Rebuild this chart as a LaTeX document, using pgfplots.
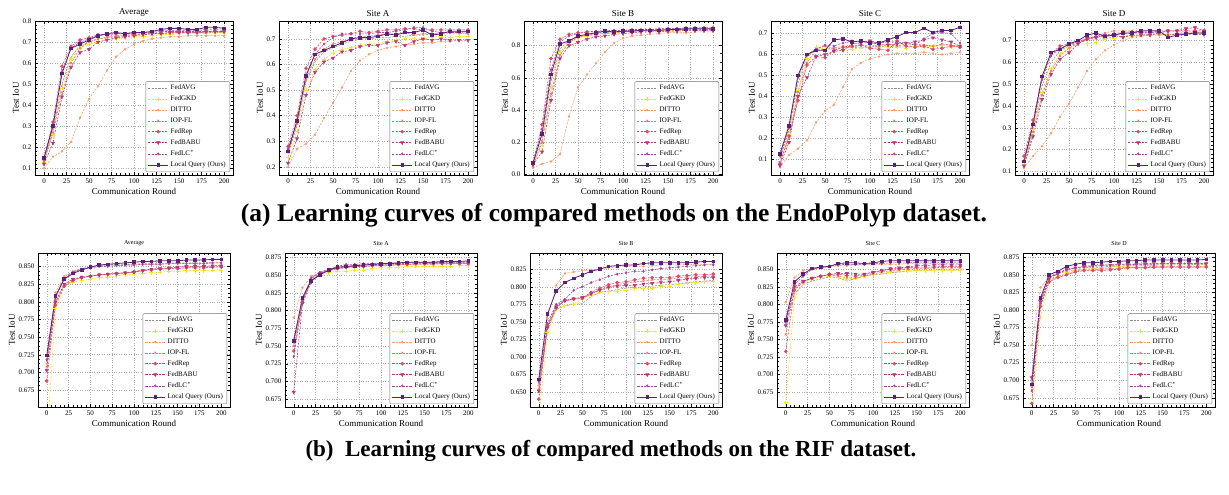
\documentclass[border=0pt]{standalone}
\usepackage{fontspec}
\setmainfont{Liberation Serif}
\usepackage{pgfplots}
\usepackage{pgfplotstable}
\pgfplotsset{compat=1.18}

\definecolor{cAVG}{HTML}{8C8C8C}
\definecolor{cGKD}{HTML}{F5E51B}
\definecolor{cDIT}{HTML}{FB9B6A}
\definecolor{cIOP}{HTML}{F2705E}
\definecolor{cREP}{HTML}{DD4968}
\definecolor{cBABU}{HTML}{B73779}
\definecolor{cLC}{HTML}{A0489A}
\definecolor{cOURS}{HTML}{5E1F78}

% columns: round, FedAVG, FedGKD, DITTO, IOP-FL, FedRep, FedBABU, FedLC*, Local Query
% ---------------- EndoPolyp ----------------
\pgfplotstableread{
x avg gkd dit iop rep babu lc ours
0 0.140 0.130 0.100 0.130 0.140 0.120 0.150 0.150
10 0.280 0.260 0.155 0.270 0.320 0.220 0.310 0.300
20 0.500 0.480 0.180 0.460 0.585 0.440 0.560 0.550
30 0.630 0.620 0.225 0.600 0.680 0.580 0.670 0.670
40 0.680 0.670 0.340 0.670 0.710 0.650 0.700 0.690
50 0.700 0.690 0.430 0.700 0.720 0.665 0.715 0.710
60 0.715 0.700 0.490 0.715 0.735 0.700 0.730 0.730
70 0.720 0.710 0.565 0.725 0.735 0.710 0.735 0.740
80 0.725 0.715 0.630 0.730 0.740 0.720 0.740 0.745
90 0.730 0.720 0.665 0.735 0.740 0.725 0.740 0.740
100 0.735 0.725 0.690 0.735 0.740 0.730 0.745 0.745
110 0.735 0.725 0.705 0.740 0.745 0.735 0.745 0.745
120 0.740 0.730 0.715 0.740 0.745 0.740 0.750 0.750
130 0.740 0.735 0.720 0.740 0.750 0.740 0.755 0.760
140 0.740 0.735 0.725 0.745 0.750 0.745 0.755 0.765
150 0.745 0.740 0.725 0.745 0.750 0.745 0.755 0.765
160 0.745 0.740 0.730 0.745 0.750 0.745 0.755 0.760
170 0.745 0.740 0.730 0.745 0.750 0.745 0.755 0.760
180 0.745 0.740 0.730 0.745 0.750 0.750 0.760 0.770
190 0.745 0.745 0.730 0.745 0.750 0.750 0.760 0.770
200 0.745 0.745 0.730 0.745 0.750 0.750 0.755 0.765
}\tEavg

\pgfplotstableread{
x avg gkd dit iop rep babu lc ours
0 0.250 0.235 0.200 0.270 0.280 0.215 0.270 0.260
10 0.360 0.340 0.270 0.370 0.400 0.310 0.380 0.380
20 0.530 0.500 0.290 0.540 0.585 0.480 0.560 0.555
30 0.610 0.580 0.325 0.620 0.660 0.570 0.640 0.640
40 0.650 0.620 0.390 0.660 0.700 0.610 0.680 0.655
50 0.665 0.645 0.450 0.680 0.710 0.625 0.705 0.670
60 0.680 0.660 0.510 0.690 0.715 0.650 0.720 0.685
70 0.690 0.665 0.575 0.700 0.720 0.655 0.720 0.700
80 0.700 0.675 0.615 0.710 0.730 0.670 0.720 0.705
90 0.700 0.680 0.640 0.710 0.725 0.675 0.720 0.705
100 0.705 0.680 0.655 0.715 0.730 0.675 0.725 0.710
110 0.705 0.690 0.665 0.720 0.735 0.685 0.725 0.720
120 0.710 0.695 0.670 0.720 0.735 0.690 0.730 0.715
130 0.710 0.700 0.675 0.725 0.740 0.675 0.735 0.725
140 0.715 0.700 0.680 0.715 0.740 0.690 0.745 0.725
150 0.715 0.700 0.685 0.720 0.735 0.700 0.745 0.735
160 0.720 0.705 0.685 0.720 0.735 0.695 0.730 0.715
170 0.720 0.710 0.690 0.725 0.735 0.700 0.725 0.720
180 0.720 0.705 0.690 0.725 0.735 0.695 0.725 0.730
190 0.720 0.710 0.695 0.725 0.735 0.695 0.725 0.730
200 0.725 0.710 0.695 0.720 0.735 0.695 0.730 0.730
}\tEa

\pgfplotstableread{
x avg gkd dit iop rep babu lc ours
0 0.065 0.060 0.040 0.050 0.070 0.060 0.075 0.070
10 0.220 0.180 0.065 0.200 0.310 0.140 0.280 0.250
20 0.580 0.540 0.080 0.500 0.720 0.460 0.650 0.620
30 0.780 0.760 0.125 0.740 0.840 0.720 0.820 0.810
40 0.830 0.820 0.360 0.820 0.870 0.800 0.860 0.830
50 0.855 0.850 0.540 0.850 0.880 0.820 0.875 0.860
60 0.865 0.860 0.620 0.865 0.885 0.840 0.885 0.870
70 0.875 0.870 0.690 0.870 0.885 0.855 0.890 0.880
80 0.880 0.875 0.760 0.875 0.890 0.860 0.890 0.890
90 0.885 0.880 0.815 0.880 0.890 0.870 0.895 0.885
100 0.890 0.885 0.845 0.885 0.895 0.875 0.895 0.890
110 0.890 0.885 0.860 0.890 0.895 0.880 0.900 0.890
120 0.890 0.890 0.865 0.890 0.895 0.885 0.900 0.895
130 0.895 0.890 0.870 0.890 0.900 0.885 0.900 0.895
140 0.895 0.890 0.875 0.895 0.900 0.885 0.905 0.895
150 0.895 0.895 0.880 0.895 0.905 0.890 0.905 0.900
160 0.900 0.895 0.880 0.895 0.905 0.890 0.905 0.900
170 0.900 0.895 0.880 0.900 0.910 0.895 0.910 0.905
180 0.900 0.895 0.885 0.900 0.910 0.895 0.910 0.905
190 0.900 0.900 0.885 0.900 0.910 0.895 0.910 0.905
200 0.900 0.900 0.885 0.900 0.910 0.895 0.910 0.905
}\tEb

\pgfplotstableread{
x avg gkd dit iop rep babu lc ours
0 0.100 0.090 0.060 0.085 0.080 0.070 0.115 0.125
10 0.240 0.220 0.120 0.200 0.210 0.180 0.250 0.260
20 0.460 0.430 0.150 0.420 0.380 0.400 0.490 0.500
30 0.590 0.580 0.190 0.560 0.550 0.490 0.600 0.600
40 0.620 0.635 0.275 0.625 0.590 0.590 0.625 0.620
50 0.625 0.625 0.330 0.640 0.585 0.600 0.645 0.620
60 0.630 0.625 0.360 0.630 0.620 0.615 0.640 0.670
70 0.630 0.620 0.445 0.640 0.635 0.620 0.655 0.675
80 0.635 0.625 0.530 0.635 0.640 0.650 0.665 0.660
90 0.630 0.635 0.560 0.645 0.645 0.655 0.660 0.665
100 0.635 0.630 0.580 0.640 0.630 0.665 0.665 0.655
110 0.640 0.635 0.590 0.645 0.625 0.645 0.655 0.655
120 0.635 0.640 0.600 0.650 0.620 0.645 0.660 0.670
130 0.640 0.635 0.605 0.640 0.665 0.650 0.660 0.685
140 0.640 0.630 0.605 0.650 0.640 0.655 0.655 0.705
150 0.640 0.640 0.605 0.650 0.635 0.660 0.645 0.705
160 0.645 0.635 0.610 0.645 0.640 0.670 0.675 0.725
170 0.640 0.640 0.605 0.640 0.625 0.680 0.700 0.705
180 0.645 0.635 0.600 0.650 0.630 0.670 0.705 0.715
190 0.645 0.635 0.605 0.645 0.640 0.660 0.700 0.715
200 0.640 0.645 0.610 0.635 0.635 0.640 0.655 0.730
}\tEc

\pgfplotstableread{
x avg gkd dit iop rep babu lc ours
0 0.140 0.130 0.115 0.125 0.170 0.125 0.150 0.145
10 0.300 0.290 0.170 0.280 0.335 0.260 0.320 0.315
20 0.490 0.460 0.215 0.450 0.530 0.430 0.520 0.535
30 0.600 0.570 0.275 0.560 0.640 0.545 0.630 0.645
40 0.655 0.640 0.350 0.630 0.675 0.615 0.665 0.660
50 0.675 0.665 0.410 0.665 0.685 0.645 0.680 0.685
60 0.690 0.685 0.485 0.690 0.700 0.685 0.695 0.700
70 0.700 0.685 0.560 0.705 0.705 0.710 0.710 0.725
80 0.705 0.690 0.615 0.720 0.715 0.715 0.720 0.735
90 0.710 0.705 0.655 0.735 0.720 0.725 0.725 0.720
100 0.715 0.710 0.680 0.745 0.730 0.725 0.730 0.725
110 0.720 0.715 0.700 0.745 0.740 0.715 0.730 0.735
120 0.725 0.720 0.715 0.745 0.740 0.725 0.735 0.735
130 0.725 0.725 0.720 0.740 0.735 0.725 0.735 0.745
140 0.730 0.725 0.725 0.745 0.735 0.725 0.740 0.745
150 0.730 0.725 0.725 0.740 0.745 0.735 0.735 0.745
160 0.730 0.730 0.730 0.740 0.745 0.745 0.725 0.715
170 0.730 0.730 0.730 0.740 0.745 0.745 0.730 0.725
180 0.735 0.735 0.730 0.740 0.745 0.755 0.730 0.730
190 0.735 0.735 0.735 0.740 0.745 0.760 0.730 0.735
200 0.735 0.735 0.735 0.740 0.745 0.745 0.725 0.735
}\tEd

% ---------------- RIF ----------------
\pgfplotstableread{
x avg gkd dit iop rep babu lc ours
0 0.715 0.600 0.712 0.708 0.688 0.703 0.718 0.724
10 0.805 0.790 0.813 0.798 0.795 0.800 0.806 0.808
20 0.835 0.822 0.836 0.824 0.822 0.825 0.832 0.832
30 0.843 0.828 0.843 0.831 0.830 0.832 0.842 0.840
40 0.847 0.830 0.846 0.834 0.834 0.835 0.846 0.845
50 0.849 0.832 0.848 0.836 0.836 0.836 0.848 0.849
60 0.851 0.834 0.850 0.838 0.838 0.838 0.850 0.852
70 0.852 0.835 0.851 0.839 0.839 0.839 0.850 0.853
80 0.853 0.837 0.851 0.840 0.840 0.840 0.851 0.854
90 0.853 0.838 0.852 0.841 0.841 0.841 0.852 0.855
100 0.853 0.839 0.852 0.843 0.842 0.842 0.852 0.856
110 0.854 0.840 0.853 0.845 0.844 0.844 0.853 0.857
120 0.854 0.841 0.853 0.846 0.845 0.846 0.853 0.857
130 0.854 0.842 0.853 0.847 0.846 0.847 0.853 0.858
140 0.855 0.843 0.854 0.847 0.847 0.848 0.854 0.858
150 0.855 0.843 0.854 0.848 0.847 0.849 0.854 0.858
160 0.855 0.844 0.854 0.848 0.848 0.850 0.854 0.859
170 0.855 0.844 0.854 0.849 0.848 0.850 0.854 0.859
180 0.855 0.844 0.854 0.849 0.848 0.850 0.854 0.859
190 0.856 0.845 0.855 0.849 0.849 0.851 0.855 0.860
200 0.856 0.845 0.855 0.850 0.849 0.851 0.855 0.860
}\tRavg

\pgfplotstableread{
x avg gkd dit iop rep babu lc ours
0 0.760 0.755 0.790 0.750 0.743 0.685 0.735 0.757
10 0.818 0.815 0.832 0.816 0.812 0.810 0.812 0.818
20 0.845 0.843 0.848 0.844 0.842 0.840 0.846 0.842
30 0.853 0.850 0.853 0.852 0.851 0.852 0.854 0.850
40 0.857 0.853 0.857 0.856 0.856 0.857 0.858 0.857
50 0.860 0.855 0.859 0.859 0.859 0.860 0.862 0.861
60 0.862 0.855 0.861 0.860 0.861 0.862 0.865 0.862
70 0.863 0.857 0.862 0.861 0.862 0.863 0.865 0.863
80 0.864 0.857 0.863 0.862 0.862 0.864 0.866 0.864
90 0.865 0.859 0.863 0.863 0.863 0.865 0.866 0.865
100 0.865 0.860 0.864 0.863 0.864 0.865 0.866 0.866
110 0.866 0.860 0.864 0.864 0.864 0.866 0.867 0.866
120 0.866 0.861 0.865 0.864 0.865 0.866 0.867 0.867
130 0.867 0.862 0.865 0.865 0.865 0.867 0.868 0.868
140 0.867 0.862 0.865 0.865 0.866 0.867 0.868 0.868
150 0.867 0.862 0.866 0.865 0.866 0.867 0.868 0.868
160 0.868 0.862 0.866 0.865 0.866 0.867 0.868 0.868
170 0.868 0.862 0.866 0.866 0.866 0.868 0.868 0.869
180 0.868 0.862 0.866 0.866 0.866 0.868 0.868 0.869
190 0.868 0.863 0.866 0.866 0.866 0.868 0.868 0.869
200 0.868 0.863 0.866 0.866 0.866 0.868 0.868 0.870
}\tRa

\pgfplotstableread{
x avg gkd dit iop rep babu lc ours
0 0.662 0.610 0.660 0.655 0.640 0.652 0.665 0.668
10 0.740 0.735 0.755 0.743 0.745 0.742 0.748 0.761
20 0.768 0.768 0.802 0.772 0.773 0.770 0.775 0.794
30 0.773 0.773 0.819 0.780 0.781 0.780 0.782 0.806
40 0.775 0.775 0.821 0.782 0.783 0.783 0.795 0.812
50 0.776 0.783 0.823 0.783 0.784 0.785 0.800 0.817
60 0.786 0.788 0.824 0.790 0.792 0.790 0.806 0.822
70 0.792 0.792 0.825 0.796 0.798 0.795 0.810 0.825
80 0.794 0.793 0.827 0.800 0.803 0.799 0.815 0.829
90 0.796 0.794 0.828 0.803 0.806 0.801 0.818 0.830
100 0.798 0.795 0.829 0.805 0.807 0.802 0.820 0.831
110 0.799 0.797 0.829 0.807 0.810 0.802 0.822 0.831
120 0.800 0.797 0.829 0.808 0.812 0.804 0.822 0.833
130 0.801 0.798 0.830 0.810 0.813 0.805 0.824 0.834
140 0.802 0.800 0.831 0.810 0.813 0.806 0.826 0.834
150 0.803 0.801 0.831 0.811 0.813 0.807 0.827 0.834
160 0.804 0.803 0.831 0.813 0.815 0.809 0.828 0.834
170 0.806 0.805 0.832 0.814 0.816 0.811 0.829 0.834
180 0.807 0.806 0.832 0.814 0.817 0.812 0.830 0.835
190 0.808 0.807 0.832 0.815 0.817 0.813 0.831 0.836
200 0.809 0.808 0.832 0.815 0.818 0.813 0.831 0.836
}\tRb

\pgfplotstableread{
x avg gkd dit iop rep babu lc ours
0 0.772 0.660 0.803 0.757 0.733 0.770 0.775 0.778
10 0.815 0.810 0.838 0.822 0.820 0.825 0.828 0.832
20 0.828 0.830 0.848 0.832 0.832 0.833 0.840 0.843
30 0.833 0.836 0.851 0.838 0.837 0.837 0.850 0.851
40 0.836 0.838 0.852 0.840 0.840 0.840 0.852 0.853
50 0.839 0.840 0.853 0.842 0.843 0.842 0.854 0.854
60 0.838 0.838 0.855 0.840 0.843 0.844 0.856 0.858
70 0.833 0.836 0.855 0.838 0.841 0.844 0.857 0.859
80 0.837 0.837 0.856 0.837 0.840 0.843 0.857 0.859
90 0.840 0.840 0.856 0.840 0.842 0.843 0.857 0.858
100 0.842 0.842 0.857 0.843 0.845 0.846 0.858 0.859
110 0.843 0.844 0.857 0.846 0.848 0.848 0.858 0.861
120 0.845 0.846 0.857 0.848 0.850 0.851 0.859 0.862
130 0.846 0.847 0.857 0.849 0.851 0.852 0.859 0.862
140 0.847 0.848 0.858 0.850 0.852 0.853 0.859 0.862
150 0.848 0.848 0.858 0.851 0.853 0.855 0.860 0.862
160 0.848 0.848 0.858 0.851 0.853 0.855 0.860 0.862
170 0.849 0.848 0.858 0.852 0.853 0.856 0.860 0.862
180 0.849 0.848 0.858 0.852 0.854 0.856 0.860 0.862
190 0.849 0.848 0.858 0.852 0.854 0.856 0.860 0.862
200 0.849 0.848 0.858 0.852 0.854 0.856 0.860 0.862
}\tRc

\pgfplotstableread{
x avg gkd dit iop rep babu lc ours
0 0.700 0.640 0.750 0.690 0.667 0.704 0.685 0.694
10 0.814 0.790 0.832 0.808 0.805 0.812 0.810 0.817
20 0.846 0.840 0.847 0.842 0.840 0.845 0.846 0.850
30 0.853 0.848 0.851 0.848 0.846 0.852 0.852 0.855
40 0.857 0.853 0.855 0.851 0.850 0.858 0.857 0.862
50 0.859 0.856 0.857 0.855 0.854 0.860 0.860 0.865
60 0.860 0.858 0.858 0.857 0.856 0.862 0.861 0.867
70 0.861 0.859 0.858 0.857 0.856 0.863 0.862 0.867
80 0.861 0.860 0.859 0.858 0.856 0.864 0.863 0.868
90 0.862 0.861 0.859 0.858 0.857 0.864 0.863 0.869
100 0.862 0.862 0.860 0.859 0.858 0.865 0.864 0.869
110 0.863 0.862 0.860 0.861 0.860 0.865 0.864 0.870
120 0.863 0.863 0.860 0.861 0.860 0.865 0.865 0.870
130 0.863 0.863 0.860 0.861 0.860 0.866 0.865 0.871
140 0.864 0.863 0.860 0.862 0.861 0.866 0.865 0.871
150 0.864 0.864 0.861 0.862 0.861 0.866 0.866 0.871
160 0.864 0.864 0.861 0.862 0.861 0.866 0.866 0.871
170 0.864 0.864 0.861 0.862 0.861 0.866 0.866 0.871
180 0.864 0.864 0.861 0.862 0.861 0.866 0.866 0.871
190 0.865 0.864 0.861 0.862 0.861 0.866 0.866 0.871
200 0.865 0.864 0.861 0.862 0.861 0.866 0.866 0.872
}\tRd

\pgfplotsset{
  curve/.style={line width=0.55pt, dash pattern=on 2.2pt off 1.2pt, mark options={solid}},
  sAVG/.style={curve, color=cAVG, mark=none},
  sGKD/.style={curve, color=cGKD, mark=+, mark size=2pt, mark options={solid, line width=0.9pt}},
  sDIT/.style={curve, color=cDIT, mark=*, mark size=0.9pt},
  sIOP/.style={curve, color=cIOP, mark=x, mark size=1.4pt},
  sREP/.style={curve, color=cREP, mark=*, mark size=1.5pt},
  sBABU/.style={curve, color=cBABU, mark=triangle*, mark size=1.8pt, mark options={solid, rotate=180}},
  sLC/.style={curve, color=cLC, mark=diamond*, mark size=1.1pt},
  sOURS/.style={color=cOURS, line width=0.8pt, solid, mark=square*, mark size=1.3pt},
  panel/.style={
    scale only axis,
    anchor=south west,
    xmin=-10, xmax=210,
    xtick={0,25,...,200},
    minor x tick num=4,
    xtick pos=both, ytick pos=both,
    tick align=inside,
    major tick length=3.2pt, minor tick length=1.8pt,
    every tick/.style={black, line width=0.4pt},
    axis line style={black, line width=0.6pt},
    grid=major,
    major grid style={gray!65, line width=0.45pt, dotted},
    tick label style={font=\fontsize{7}{8}\selectfont},
    /pgf/number format/assume math mode=true,
    label style={font=\fontsize{9}{10}\selectfont},
    xlabel={Communication Round},
    ylabel={Test IoU},
    xlabel style={yshift=2pt},
    ylabel style={yshift=-3pt},
    legend cell align=left,
    legend style={font=\fontsize{7}{8.5}\selectfont, at={(0.985,0.02)}, anchor=south east,
      draw=black!55, line width=0.4pt, fill=white, inner xsep=2pt, inner ysep=1.5pt, row sep=0.6pt,
      rounded corners=1pt},
    legend image code/.code={\draw[mark repeat=2, mark phase=2] plot coordinates {(0pt,0pt) (10pt,0pt) (20pt,0pt)};},
  },
  toprow/.style={panel, width=198pt, height=154pt,
    title style={font=\fontsize{9}{10}\selectfont, yshift=-5pt},
    yticklabel style={/pgf/number format/.cd, fixed, fixed zerofill, precision=1}},
  botrow/.style={panel, width=192pt, height=154pt,
    title style={font=\fontsize{6}{7}\selectfont, yshift=-2.5pt},
    minor y tick num=3,
    yticklabel style={/pgf/number format/.cd, fixed, fixed zerofill, precision=3}},
}

\newcommand{\curves}[1]{%
  \addplot[sAVG] table[x=x, y=avg] {#1};
  \addplot[sGKD] table[x=x, y=gkd] {#1};
  \addplot[sDIT] table[x=x, y=dit] {#1};
  \addplot[sIOP] table[x=x, y=iop] {#1};
  \addplot[sREP] table[x=x, y=rep] {#1};
  \addplot[sBABU] table[x=x, y=babu] {#1};
  \addplot[sLC] table[x=x, y=lc] {#1};
  \addplot[sOURS] table[x=x, y=ours] {#1};
  \legend{FedAVG, FedGKD, DITTO, IOP-FL, FedRep, FedBABU, FedLC$^{*}$, Local Query (Ours)}
}

\begin{document}
\begin{tikzpicture}
\path[use as bounding box] (0pt,0pt) rectangle (1229pt,495pt);

% ---------- row (a): EndoPolyp ----------
\begin{axis}[toprow, at={(35pt,320pt)}, title={Average},
  ymin=0.068, ymax=0.8, ytick={0.1,0.2,...,0.8}, minor y tick num=4]
\curves{\tEavg}
\end{axis}
\begin{axis}[toprow, at={(279pt,320pt)}, title={Site A},
  ymin=0.168, ymax=0.77, ytick={0.2,0.3,...,0.7}, minor y tick num=4]
\curves{\tEa}
\end{axis}
\begin{axis}[toprow, at={(524pt,320pt)}, title={Site B},
  ymin=-0.004, ymax=0.953, ytick={0,0.2,...,0.8}, minor y tick num=3]
\curves{\tEb}
\end{axis}
\begin{axis}[toprow, at={(771pt,320pt)}, title={Site C},
  ymin=0.024, ymax=0.76, ytick={0.1,0.2,...,0.7}, minor y tick num=4]
\curves{\tEc}
\end{axis}
\begin{axis}[toprow, at={(1015pt,320pt)}, title={Site D},
  ymin=0.083, ymax=0.79, ytick={0.1,0.2,...,0.7}, minor y tick num=4]
\curves{\tEd}
\end{axis}

\node[font=\bfseries\fontsize{25.5}{28}\selectfont, inner sep=0pt] at (614pt,280pt)
  {(a) Learning curves of compared methods on the EndoPolyp dataset.};

% ---------- row (b): RIF ----------
\begin{axis}[botrow, at={(38pt,88pt)}, title={Average},
  ymin=0.651, ymax=0.869, ytick={0.675,0.7,...,0.851}]
\curves{\tRavg}
\end{axis}
\begin{axis}[botrow, at={(285pt,88pt)}, title={Site A},
  ymin=0.664, ymax=0.881, ytick={0.675,0.7,...,0.876}]
\curves{\tRa}
\end{axis}
\begin{axis}[botrow, at={(530pt,88pt)}, title={Site B},
  ymin=0.629, ymax=0.848, ytick={0.65,0.675,...,0.826}]
\curves{\tRb}
\end{axis}
\begin{axis}[botrow, at={(777pt,88pt)}, title={Site C},
  ymin=0.654, ymax=0.873, ytick={0.675,0.7,...,0.851}]
\curves{\tRc}
\end{axis}
\begin{axis}[botrow, at={(1023pt,88pt)}, title={Site D},
  ymin=0.662, ymax=0.881, ytick={0.675,0.7,...,0.876}]
\curves{\tRd}
\end{axis}

\node[font=\bfseries\fontsize{23}{26}\selectfont, inner sep=0pt] at (611pt,44pt)
  {(b)\ \ Learning curves of compared methods on the RIF dataset.};
\end{tikzpicture}
\end{document}
